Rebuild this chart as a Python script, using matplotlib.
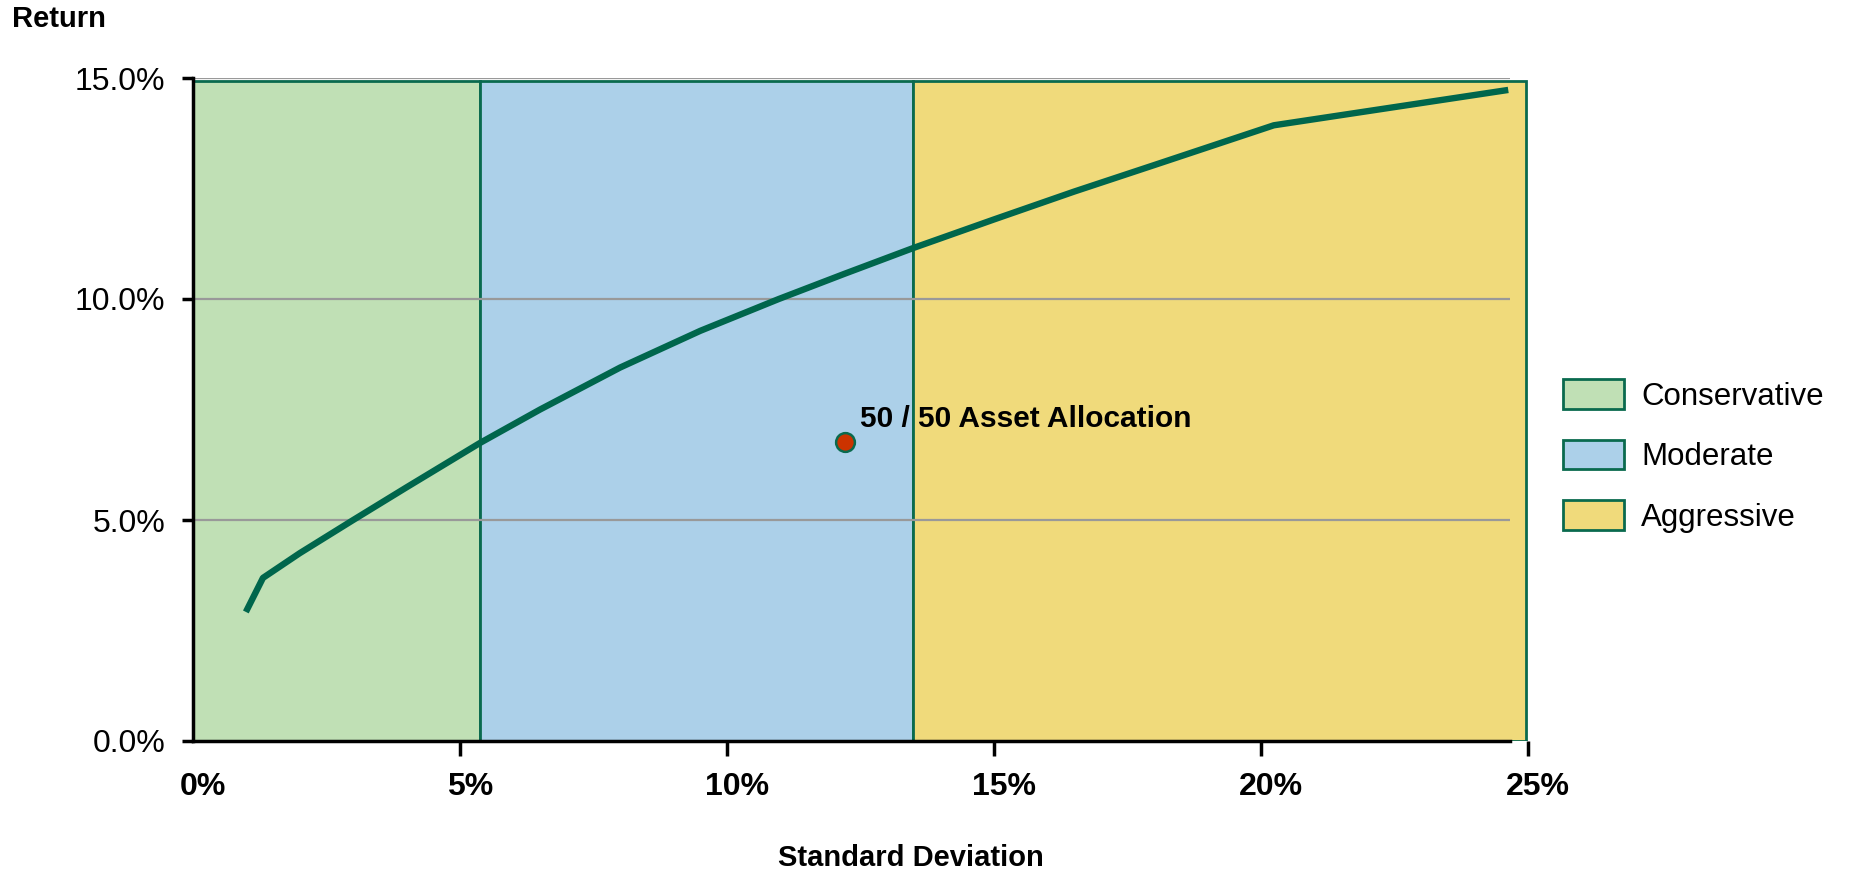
import matplotlib
matplotlib.use("Agg")
import matplotlib.pyplot as plt
from matplotlib.patches import Rectangle, Patch
from matplotlib.transforms import ScaledTranslation

plt.rcParams['font.family'] = ['Liberation Sans', 'DejaVu Sans']

# Efficient frontier (standard deviation %, return %)
frontier_sd = [0.99, 1.31, 2.0, 3.0, 4.0, 5.37, 6.5, 8.0, 9.5, 10.97,
               12.2, 13.48, 15.0, 16.5, 18.0, 20.24, 24.63]
frontier_ret = [2.92, 3.69, 4.25, 5.0, 5.74, 6.74, 7.5, 8.45, 9.28, 10.0,
                10.57, 11.15, 11.8, 12.43, 13.03, 13.93, 14.73]

# Risk bands (standard deviation ranges)
band_names = ["Conservative", "Moderate", "Aggressive"]
band_start = [0.0, 5.37, 13.48]
band_end = [5.37, 13.48, 24.97]
band_colors = ["#C0E0B5", "#ACD0E9", "#F0DA7B"]
band_top = 14.93

# Highlighted portfolio
point_sd = 12.21
point_ret = 6.76
point_label = "50 / 50 Asset Allocation"

x_ticks = [0, 5, 10, 15, 20, 25]
x_tick_labels = ["0%", "5%", "10%", "15%", "20%", "25%"]
y_ticks = [0, 5, 10, 15]
y_tick_labels = ["0.0%", "5.0%", "10.0%", "15.0%"]

dark_green = "#0A6A4E"
line_green = "#00664C"

fig = plt.figure(figsize=(18.5, 8.74), dpi=100)
ax = fig.add_axes([193 / 1850, 1 - 741 / 874, (1528 - 193) / 1850, (741 - 78) / 874])
ax.set_xlim(0, 25)
ax.set_ylim(0, 15)

for s, e, c in zip(band_start, band_end, band_colors):
    ax.add_patch(Rectangle((s, 0), e - s, band_top, facecolor=c,
                           edgecolor=dark_green, linewidth=2.0, zorder=1))

ax.hlines([5, 10, 15], 0, 24.66, colors="#999999", linewidth=1.6, zorder=2)

ax.plot(frontier_sd, frontier_ret, color=line_green, linewidth=4.6,
        solid_capstyle="butt", solid_joinstyle="round", zorder=4)

ax.plot([point_sd], [point_ret], marker="o", markersize=13.5,
        markerfacecolor="#CC3300", markeredgecolor=dark_green,
        markeredgewidth=1.8, linestyle="none", zorder=5)
ax.annotate(point_label, (point_sd, point_ret), xytext=(11, 17),
            textcoords="offset points", fontsize=21.5, fontweight="bold",
            va="center", ha="left", zorder=6)

for side in ("top", "right"):
    ax.spines[side].set_visible(False)
ax.spines["left"].set_linewidth(2.5)
ax.spines["bottom"].set_linewidth(2.5)
ax.spines["bottom"].set_bounds(0, 24.66)
ax.spines["left"].set_zorder(3)
ax.spines["bottom"].set_zorder(3)

ax.set_xticks(x_ticks)
ax.set_xticklabels(x_tick_labels, fontsize=23, fontweight="bold")
ax.set_yticks(y_ticks)
ax.set_yticklabels(y_tick_labels, fontsize=23)
ax.tick_params(axis="x", length=11, width=2.5, pad=11, direction="out")
ax.tick_params(axis="y", length=8, width=2.5, pad=12, direction="out")
ax.xaxis.get_major_ticks()[0].tick1line.set_visible(False)
shift = ScaledTranslation(10 / 100, 0, fig.dpi_scale_trans)
for lbl in ax.get_xticklabels():
    lbl.set_transform(lbl.get_transform() + shift)

fig.text(12 / 1850, 1 - 19 / 874, "Return", fontsize=21, fontweight="bold",
         ha="left", va="center")
fig.text(911 / 1850, 1 - 858 / 874, "Standard Deviation", fontsize=21,
         fontweight="bold", ha="center", va="center")

handles = [Patch(facecolor=c, edgecolor=dark_green, linewidth=2.0) for c in band_colors]
fig.legend(handles, band_names, loc="center left",
           bbox_to_anchor=(1563 / 1850, 1 - 456 / 874), frameon=False,
           fontsize=22.5, handlelength=1.95, handleheight=1.08,
           labelspacing=0.9, handletextpad=0.55, borderpad=0, borderaxespad=0)

fig.savefig("out.png", dpi=100)
